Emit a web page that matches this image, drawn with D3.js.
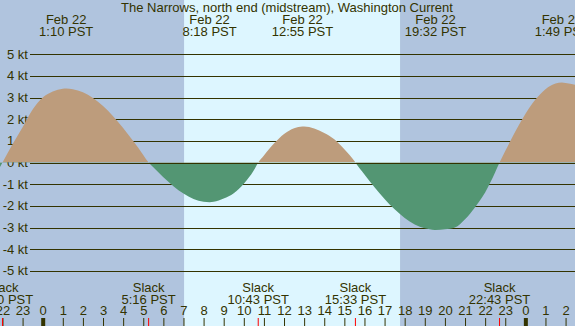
<!DOCTYPE html>
<html><head><meta charset="utf-8">
<script src="https://cdn.jsdelivr.net/npm/d3@7"></script>
<style>body{margin:0;background:#b0c4de}svg{display:block}text{font-family:"Liberation Sans",Arial,sans-serif;fill:#333300}</style>
</head><body>
<script>
// hours relative to midnight Feb 22 (PST)
const hours = [-2.5,-2,-1.5,-1,-0.5,0,0.5,1,1.167,1.5,2,2.5,3,3.5,4,4.5,5,5.267,5.5,6,6.5,7,7.5,8,8.3,8.5,9,9.5,10,10.5,10.717,11,11.5,12,12.5,12.917,13,13.5,14,14.5,15,15.5,15.55,16,16.5,17,17.5,18,18.5,19,19.5,19.533,20,20.5,21,21.5,22,22.5,22.717,23,23.5,24,24.5,25,25.5,25.817,26,26.5,27];
const knots = [-0.8,0,0.84,1.63,2.45,3.0,3.28,3.41,3.42,3.39,3.25,2.98,2.61,2.14,1.6,0.99,0.35,0,-0.22,-0.68,-1.09,-1.43,-1.68,-1.81,-1.83,-1.81,-1.66,-1.42,-0.98,-0.36,0,0.33,0.88,1.32,1.59,1.66,1.66,1.57,1.37,1.08,0.62,0.07,0,-0.55,-1.14,-1.68,-2.16,-2.56,-2.86,-3.04,-3.11,-3.11,-3.08,-3.0,-2.62,-2.06,-1.38,-0.45,0,0.53,1.43,2.24,2.91,3.39,3.65,3.7,3.68,3.58,3.42];
const maxTimes = [1.167, 8.3, 12.917, 19.533, 25.817];
const maxLabels = ["1:10 PST","8:18 PST","12:55 PST","19:32 PST","1:49 PST"];
const maxDates = ["Feb 22","Feb 22","Feb 22","Feb 22","Feb 23"];
const slackTimes = [-2.0, 5.267, 10.717, 15.55, 22.717];
const slackLabels = ["22:00 PST","5:16 PST","10:43 PST","15:33 PST","22:43 PST"];
const sunrise = 7.03, sunset = 17.77;
const yTicks = [5,4,3,2,1,0,-1,-2,-3,-4,-5];
const hourTicks = d3.range(-2, 27);
const title = "The Narrows, north end (midstream), Washington Current";

const W = 575, H = 326;
const x = d3.scaleLinear().domain([-2.1233, 26.469]).range([0, W]);
const y = d3.scaleLinear().domain([-5, 5]).range([270.8, 54.3]);
const svg = d3.select("body").append("svg").attr("width", W).attr("height", H);

svg.append("rect").attr("width", W).attr("height", H).attr("fill", "#b0c4de");
svg.append("rect").attr("x", x(sunrise)).attr("y", 0).attr("width", x(sunset) - x(sunrise)).attr("height", H).attr("fill", "#ddf6ff");

// grid
svg.append("g").selectAll("line").data(yTicks).join("line")
  .attr("x1", 30).attr("x2", W).attr("y1", d => Math.round(y(d)) + 0.5).attr("y2", d => Math.round(y(d)) + 0.5)
  .attr("stroke", "#333300").attr("stroke-width", 1);
svg.append("g").selectAll("text").data(yTicks).join("text")
  .attr("x", 28).attr("y", d => y(d) + 4.5).attr("text-anchor", "end").attr("font-size", 13)
  .text(d => d + " kt");

const data = hours.map((h, i) => ({h, v: knots[i]}));
const defs = svg.append("defs");
defs.append("clipPath").attr("id", "above").append("rect").attr("x", 0).attr("y", 0).attr("width", W).attr("height", y(0));
defs.append("clipPath").attr("id", "below").append("rect").attr("x", 0).attr("y", y(0)).attr("width", W).attr("height", H - y(0));
const area = d3.area().x(d => x(d.h)).y0(y(0)).y1(d => y(d.v)).curve(d3.curveMonotoneX);
svg.append("path").datum(data).attr("d", area).attr("fill", "#bd9c7c").attr("clip-path", "url(#above)");
svg.append("path").datum(data).attr("d", area).attr("fill", "#539673").attr("clip-path", "url(#below)");
svg.append("line").attr("x1", 30).attr("x2", W).attr("y1", Math.round(y(0)) + 0.5).attr("y2", Math.round(y(0)) + 0.5).attr("stroke", "#333300");

// title and labels
svg.append("text").attr("x", 287).attr("y", 12).attr("text-anchor", "middle").attr("font-size", 13).text(title);
const tg = svg.append("g").selectAll("g").data(maxTimes).join("g");
tg.append("text").attr("x", d => x(d)).attr("y", 24).attr("text-anchor", "middle").attr("font-size", 13).text((d, i) => maxDates[i]);
tg.append("text").attr("x", d => x(d)).attr("y", 36).attr("text-anchor", "middle").attr("font-size", 13).text((d, i) => maxLabels[i]);
const bg = svg.append("g").selectAll("g").data(slackTimes).join("g");
bg.append("text").attr("x", d => x(d)).attr("y", 292).attr("text-anchor", "middle").attr("font-size", 13).text("Slack");
bg.append("text").attr("x", d => x(d)).attr("y", 303.5).attr("text-anchor", "middle").attr("font-size", 13).text((d, i) => slackLabels[i]);

// hour axis
const ax = d3.axisTop(x).tickValues(hourTicks).tickSize(8).tickPadding(3)
  .tickFormat(d => ((d % 24) + 24) % 24);
const axg = svg.append("g").attr("transform", `translate(0,${H})`).call(ax);
axg.select(".domain").remove();
axg.selectAll(".tick line").attr("stroke", "#333300")
  .attr("stroke-width", d => (((d % 24) + 24) % 24) === 0 ? 4 : 1);
axg.selectAll(".tick text").attr("font-size", 13).attr("fill", "#333300").attr("font-family", "Liberation Sans, Arial, sans-serif");
svg.append("g").selectAll("line").data(slackTimes).join("line")
  .attr("x1", d => x(d)).attr("x2", d => x(d)).attr("y1", H - 8).attr("y2", H)
  .attr("stroke", "#ff0000").attr("stroke-width", 1);
</script>
</body></html>
